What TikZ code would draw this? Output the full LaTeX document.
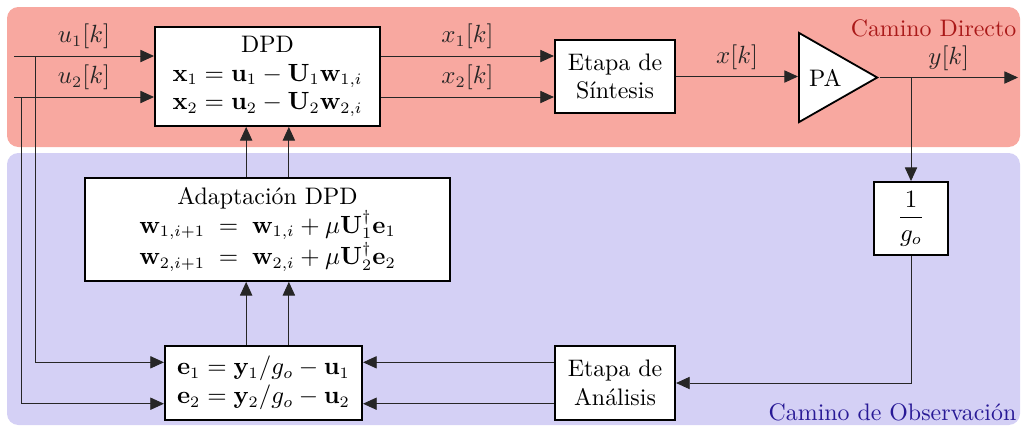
\documentclass[tikz,border=0pt]{standalone}
\usepackage{amsmath,amssymb}
\usepackage{tikz}
\usetikzlibrary{arrows.meta,shapes.geometric}
\definecolor{dirbg}{RGB}{248,168,160}
\definecolor{obsbg}{RGB}{212,208,245}
\definecolor{dirtxt}{RGB}{170,25,25}
\definecolor{obstxt}{RGB}{40,25,150}
\tikzset{
  blk/.style  = {draw,thick,fill=white,align=center,inner sep=2pt},
  sig/.style  = {-{Triangle[length=6pt,width=5.4pt]},black!85},
  lbl/.style  = {above,inner sep=3pt},
  zone/.style = {rounded corners=5pt}
}

\begin{document}
\begin{tikzpicture}[x=0.01546cm,y=-0.01546cm,font=\fontsize{10.5}{12.6}\selectfont]
  \useasboundingbox (0,0) rectangle (1022,428);
  \fill[zone,dirbg] (7,7) rectangle (1020,147);
  \fill[zone,obsbg] (7,153) rectangle (1020,425);
  \node[anchor=north east,text=dirtxt,inner sep=1pt] (tdir) at (1019,17) {Camino Directo};
  \node[anchor=base east,text=obstxt,inner sep=1pt] (tobs) at (1019,420) {Camino de Observación};

  % bloques
  \node[blk,minimum width=3.48cm,minimum height=1.53cm] (dpd) at (267.5,76.5)
    {DPD\\ $\mathbf{x}_1=\mathbf{u}_1-\mathbf{U}_1\mathbf{w}_{1,i}$\\ $\mathbf{x}_2=\mathbf{u}_2-\mathbf{U}_2\mathbf{w}_{2,i}$};
  \node[blk,minimum width=1.86cm,minimum height=1.13cm] (sint) at (615,76.5) {Etapa de\\Síntesis};
  \node[draw,thick,fill=white,isosceles triangle,isosceles triangle stretches,
        minimum width=1.38cm,minimum height=1.21cm,inner sep=0pt,anchor=lower side] (pa) at (798,77.5) {PA};
  \node[blk,minimum width=1.14cm,minimum height=1.13cm] (gain) at (911,218.5) {$\dfrac{1}{g_o}$};
  \node[blk,minimum width=5.64cm,minimum height=1.59cm] (adapt) at (267.5,229.5)
    {Adaptación DPD\\
     $\mathbf{w}_{1,i+1}\;=\;\mathbf{w}_{1,i}+\mu\mathbf{U}_1^{\dagger}\mathbf{e}_1$\\
     $\mathbf{w}_{2,i+1}\;=\;\mathbf{w}_{2,i}+\mu\mathbf{U}_2^{\dagger}\mathbf{e}_2$};
  \node[blk,minimum width=3.05cm,minimum height=1.14cm] (err) at (263.5,383)
    {$\mathbf{e}_1=\mathbf{y}_1/g_o-\mathbf{u}_1$\\ $\mathbf{e}_2=\mathbf{y}_2/g_o-\mathbf{u}_2$};
  \node[blk,minimum width=1.86cm,minimum height=1.14cm] (ana) at (615,383) {Etapa de\\Análisis};

  % puntos auxiliares
  \coordinate (in1) at (14,56);
  \coordinate (in2) at (14,97);
  \coordinate (tap1) at (35,56);
  \coordinate (tap2) at (21,97);
  \coordinate (out) at (1018,77.5);
  \coordinate (lnk1) at ([xshift=-0.33cm]dpd.south);
  \coordinate (lnk2) at ([xshift=0.33cm]dpd.south);

  % camino directo
  \draw[sig] (in1) -- (in1 -| dpd.west) node[lbl,midway] {$u_1[k]$};
  \draw[sig] (in2) -- (in2 -| dpd.west) node[lbl,midway] {$u_2[k]$};
  \draw[sig] (in1 -| dpd.east) -- (in1 -| sint.west) node[lbl,midway] {$x_1[k]$};
  \draw[sig] (in2 -| dpd.east) -- (in2 -| sint.west) node[lbl,midway] {$x_2[k]$};
  \draw[sig] (sint.east) -- (sint.east -| pa.west) node[lbl,midway] {$x[k]$};
  \draw[sig] (pa.apex) -- (out) node[lbl,midway] {$y[k]$};

  % camino de observacion
  \draw[sig] (gain.north |- pa.apex) -- (gain.north);
  \draw[sig] (gain.south) |- (ana.east);
  \draw[sig] ([yshift=0.32cm]ana.west) -- ([yshift=0.32cm]err.east);
  \draw[sig] ([yshift=-0.32cm]ana.west) -- ([yshift=-0.32cm]err.east);
  \draw[sig] (tap1) |- ([yshift=0.32cm]err.west);
  \draw[sig] (tap2) |- ([yshift=-0.32cm]err.west);
  \draw[sig] (err.north -| lnk1) -- (adapt.south -| lnk1);
  \draw[sig] (err.north -| lnk2) -- (adapt.south -| lnk2);
  \draw[sig] (adapt.north -| lnk1) -- (lnk1);
  \draw[sig] (adapt.north -| lnk2) -- (lnk2);
\end{tikzpicture}
\end{document}
